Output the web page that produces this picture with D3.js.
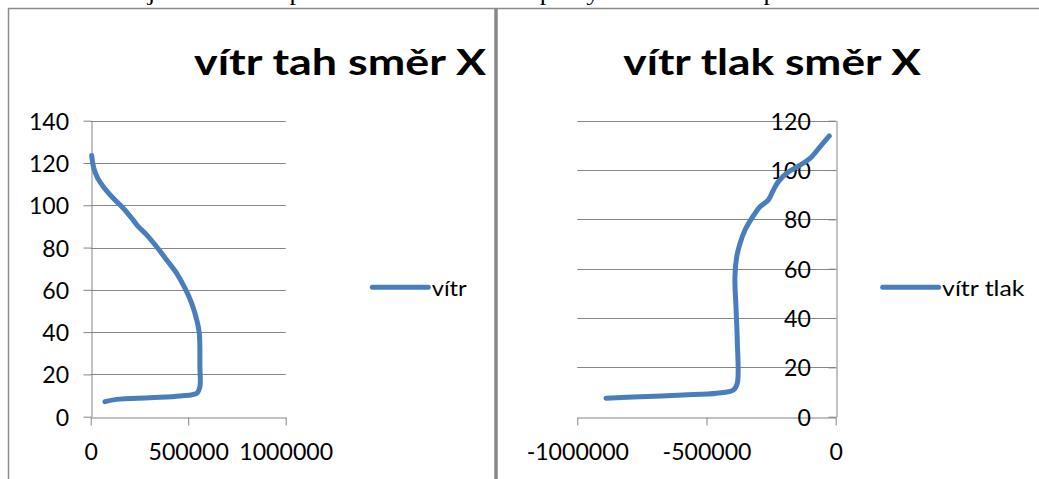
<!DOCTYPE html>
<html>
<head>
<meta charset="utf-8">
<script src="https://cdn.jsdelivr.net/npm/d3@7"></script>
<style>
  body { margin: 0; background: #fff; }
  text { font-family: Lato, "Open Sans", sans-serif; }
</style>
</head>
<body>
<div id="root"></div>
<script>
const width = 1039
const height = 479

// values (x = force, y = height)
const tahX = [73000, 133000, 304000, 458000, 544000, 560000, 560000, 557000, 544000, 518000, 484000, 441000, 390000, 338000, 287000, 244000, 218000, 167000, 116000, 65000, 35000, 16000, 5000]
const tahY = [7.1, 8.2, 9.0, 9.8, 11.1, 14.2, 23.6, 39.4, 45.7, 53.6, 60.7, 67.8, 74.1, 80.4, 86.0, 89.9, 93.0, 98.6, 103.3, 108.8, 113.0, 117.5, 123.5]

const tlakX = [-889000, -757000, -590000, -460000, -396000, -381000, -381000, -386000, -390000, -383000, -370000, -351000, -325000, -293000, -261000, -241000, -222000, -190000, -138000, -99500, -60800, -24800]
const tlakY = [7.5, 8.1, 8.8, 9.5, 10.8, 13.5, 31.1, 44.6, 56.7, 64.9, 70.3, 75.7, 80.4, 85.1, 87.8, 91.9, 95.3, 98.7, 102.0, 104.7, 109.4, 113.8]

const tahXTicks = [0, 500000, 1000000]
const tahYTicks = [0, 20, 40, 60, 80, 100, 120, 140]
const tlakXTicks = [-1000000, -500000, 0]
const tlakYTicks = [0, 20, 40, 60, 80, 100, 120]

const blue = '#4a7ebb'
const grey = '#868686'

const svg = d3.select('#root').append('svg')
  .attr('width', width)
  .attr('height', height)

// text width fitting (source picture is stretched horizontally)
const labelWidth = s => String(s).replace(/-/g, '').length * 13.4 + (String(s).match(/-/g) || []).length * 8.5
function fit (sel, w) {
  sel.attr('textLength', w).attr('lengthAdjust', 'spacingAndGlyphs')
}

// cut-off line of document text at the very top (only its bottom edge shows)
svg.append('text')
  .attr('x', 0).attr('y', -0.5)
  .style('font-family', '"Liberation Serif", serif')
  .style('font-size', '21px')
  .text('Na obrázcích je znázorněn průběh zatížení větrem po výšce konstrukce pro tah a tlak ve směru X.')
  .call(fit, 1039)

// frames
svg.append('line').attr('x1', 8).attr('x2', width).attr('y1', 8.5).attr('y2', 8.5)
  .attr('stroke', '#8c8c8c').attr('stroke-width', 1.5)
svg.append('line').attr('x1', 8.5).attr('x2', 8.5).attr('y1', 8).attr('y2', height)
  .attr('stroke', '#8c8c8c').attr('stroke-width', 1.5)
svg.append('line').attr('x1', 496).attr('x2', 496).attr('y1', 8).attr('y2', height)
  .attr('stroke', '#888').attr('stroke-width', 3.5)

function chart (cfg) {
  const g = svg.append('g')
  const x = d3.scaleLinear().domain(cfg.xDomain).range(cfg.xRange)
  const y = d3.scaleLinear().domain(cfg.yDomain).range([416.7, 120.7])
  const axisX = x(cfg.yAxisAt)

  // gridlines
  g.append('g').selectAll('line').data(cfg.yTicks.filter(d => d !== 0)).join('line')
    .attr('x1', cfg.xRange[0]).attr('x2', cfg.xRange[1])
    .attr('y1', d => Math.round(y(d)) + 0.5).attr('y2', d => Math.round(y(d)) + 0.5)
    .attr('stroke', grey)

  // x axis
  const gx = g.append('g')
    .attr('transform', `translate(0,${Math.round(y(0)) + 0.5})`)
    .call(d3.axisBottom(x).tickValues(cfg.xTicks).tickSize(8).tickSizeOuter(0).tickPadding(18).tickFormat(d => String(d)))
  gx.select('.domain').attr('stroke', grey)
  gx.selectAll('.tick line').attr('stroke', grey)
  gx.selectAll('.tick text')
    .attr('fill', '#000').style('font-size', '23px')
    .each(function (d) { d3.select(this).call(fit, labelWidth(d)) })

  // y axis
  const gy = g.append('g')
    .attr('transform', `translate(${Math.round(axisX) + 0.5},0)`)
    .call(d3.axisLeft(y).tickValues(cfg.yTicks).tickSize(8).tickSizeOuter(0).tickPadding(cfg.yPad).tickFormat(d => String(d)))
  gy.select('.domain').attr('stroke', grey)
  gy.selectAll('.tick line').attr('stroke', grey)
  gy.selectAll('.tick text')
    .attr('fill', '#000').style('font-size', '23px').attr('dy', '0.37em')
    .each(function (d) { d3.select(this).call(fit, labelWidth(d)) })

  // series
  const pts = cfg.xs.map((v, i) => [v, cfg.ys[i]])
  g.append('path')
    .datum(pts)
    .attr('fill', 'none')
    .attr('stroke', blue)
    .attr('stroke-width', 5)
    .attr('stroke-linecap', 'round')
    .attr('stroke-linejoin', 'round')
    .attr('d', d3.line().x(d => x(d[0])).y(d => y(d[1])).curve(d3.curveCatmullRom))

  // title
  g.append('text')
    .attr('x', cfg.title.x).attr('y', cfg.title.y)
    .style('font-weight', 'bold').style('font-size', '36px')
    .text(cfg.title.text)
    .call(fit, cfg.title.w)

  // legend
  g.append('line')
    .attr('x1', cfg.legend.x).attr('x2', cfg.legend.x + 56)
    .attr('y1', 287.3).attr('y2', 287.3)
    .attr('stroke', blue).attr('stroke-width', 5).attr('stroke-linecap', 'round')
  g.append('text')
    .attr('x', cfg.legend.x + 59.4).attr('y', 295.7)
    .style('font-size', '22px')
    .text(cfg.legend.text)
    .call(fit, cfg.legend.w)
}

chart({
  xDomain: [0, 1000000], xRange: [90.7, 285.7], yAxisAt: 0,
  yDomain: [0, 140], xTicks: tahXTicks, yTicks: tahYTicks, yPad: 14.4,
  xs: tahX, ys: tahY,
  title: { text: 'vítr tah směr X', x: 194, y: 75.3, w: 292 },
  legend: { text: 'vítr', x: 372.3, w: 35 }
})

chart({
  xDomain: [-1000000, 0], xRange: [577.3, 835.7], yAxisAt: 0,
  yDomain: [0, 120], xTicks: tlakXTicks, yTicks: tlakYTicks, yPad: 17.7,
  xs: tlakX, ys: tlakY,
  title: { text: 'vítr tlak směr X', x: 623.3, y: 75, w: 297.7 },
  legend: { text: 'vítr tlak', x: 882.7, w: 82.3 }
})
</script>
</body>
</html>
